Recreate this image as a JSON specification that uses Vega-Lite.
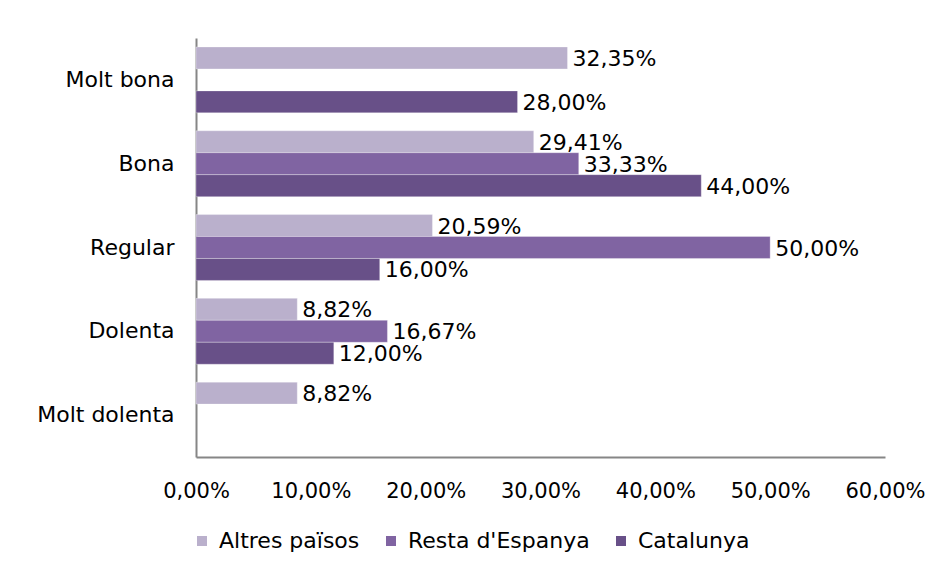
{
  "$schema": "https://vega.github.io/schema/vega-lite/v6.json",
  "width": 689,
  "height": 419,
  "autosize": {"type": "none"},
  "padding": {"left": 196, "top": 38, "right": 56, "bottom": 114},
  "background": "white",
  "config": {
    "locale": {
      "number": {"decimal": ",", "thousands": ".", "grouping": [3], "currency": ["", " €"]}
    },
    "view": {"stroke": null},
    "font": "DejaVu Sans"
  },
  "data": {
    "values": [
      {"categoria": "Molt bona", "origen": "Altres països", "valor": 0.3235},
      {"categoria": "Molt bona", "origen": "Catalunya", "valor": 0.28},
      {"categoria": "Bona", "origen": "Altres països", "valor": 0.2941},
      {"categoria": "Bona", "origen": "Resta d'Espanya", "valor": 0.3333},
      {"categoria": "Bona", "origen": "Catalunya", "valor": 0.44},
      {"categoria": "Regular", "origen": "Altres països", "valor": 0.2059},
      {"categoria": "Regular", "origen": "Resta d'Espanya", "valor": 0.5},
      {"categoria": "Regular", "origen": "Catalunya", "valor": 0.16},
      {"categoria": "Dolenta", "origen": "Altres països", "valor": 0.0882},
      {"categoria": "Dolenta", "origen": "Resta d'Espanya", "valor": 0.1667},
      {"categoria": "Dolenta", "origen": "Catalunya", "valor": 0.12},
      {"categoria": "Molt dolenta", "origen": "Altres països", "valor": 0.0882}
    ]
  },
  "encoding": {
    "y": {
      "field": "categoria",
      "type": "nominal",
      "sort": ["Molt bona", "Bona", "Regular", "Dolenta", "Molt dolenta"],
      "scale": {"paddingInner": 0.214, "paddingOuter": 0.107},
      "axis": {
        "title": null,
        "ticks": false,
        "domainColor": "#868686",
        "domainWidth": 2,
        "labelFontSize": 22,
        "labelColor": "#000000",
        "labelPadding": 22,
        "labelLimit": 200,
        "labelFont": "DejaVu Sans"
      }
    },
    "yOffset": {
      "field": "origen",
      "type": "nominal",
      "scale": {"domain": ["Altres països", "Resta d'Espanya", "Catalunya"], "paddingInner": 0, "paddingOuter": 0}
    },
    "x": {
      "field": "valor",
      "type": "quantitative",
      "scale": {"domain": [0, 0.6], "nice": false},
      "axis": {
        "title": null,
        "format": ".2%",
        "values": [0, 0.1, 0.2, 0.3, 0.4, 0.5, 0.6],
        "grid": false,
        "ticks": false,
        "domainColor": "#868686",
        "domainWidth": 2,
        "labelFontSize": 21,
        "labelColor": "#000000",
        "labelPadding": 23,
        "labelFlush": false,
        "labelFont": "DejaVu Sans"
      }
    }
  },
  "layer": [
    {
      "mark": {"type": "bar", "stroke": "white", "strokeWidth": 0.5, "strokeOpacity": 0.6},
      "encoding": {
        "color": {
          "field": "origen",
          "type": "nominal",
          "scale": {
            "domain": ["Altres països", "Resta d'Espanya", "Catalunya"],
            "range": ["#bab0cc", "#8064a2", "#685088"]
          },
          "legend": {
            "title": null,
            "orient": "none",
            "direction": "horizontal",
            "legendX": -5,
            "legendY": 492,
            "symbolType": "square",
            "symbolSize": 100,
            "symbolStrokeWidth": 0,
            "labelFontSize": 22,
            "labelLimit": 300,
            "labelColor": "#000000",
            "labelFont": "DejaVu Sans",
            "columnPadding": 20,
            "labelOffset": 6
          }
        }
      }
    },
    {
      "mark": {"type": "text", "align": "left", "baseline": "middle", "dx": 5, "dy": 1, "fontSize": 22, "color": "#000000", "font": "DejaVu Sans"},
      "encoding": {
        "text": {"field": "valor", "type": "quantitative", "format": ".2%"}
      }
    }
  ]
}
